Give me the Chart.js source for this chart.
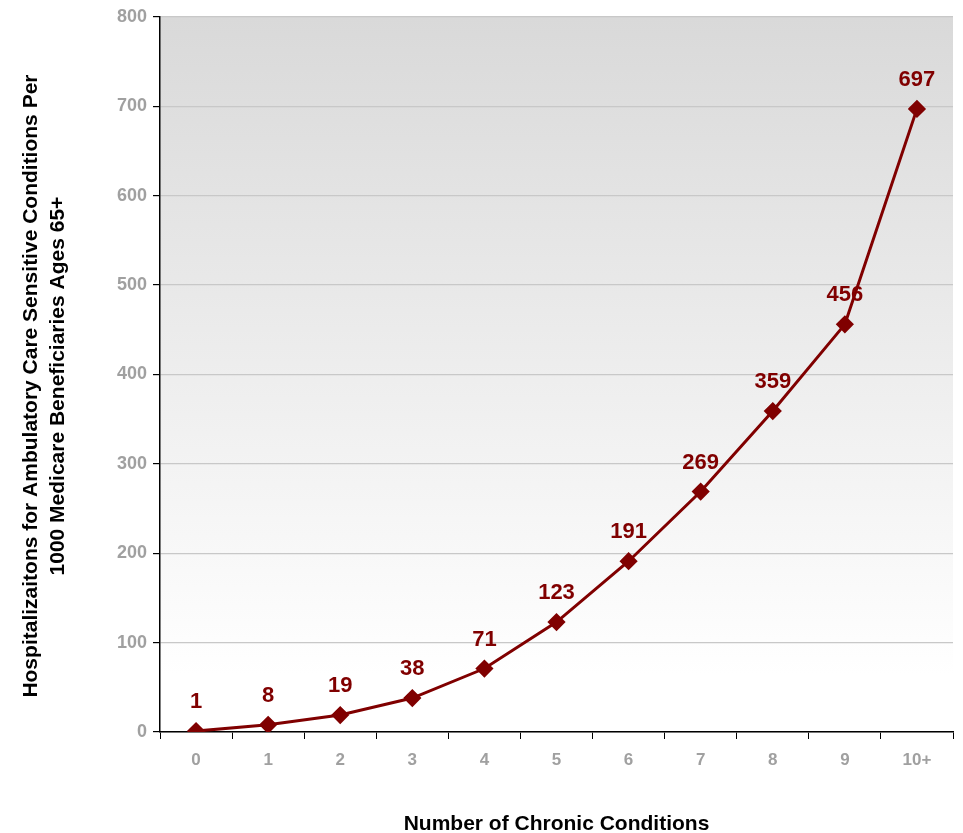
<!DOCTYPE html>
<html>
<head>
<meta charset="utf-8">
<script src="https://cdn.jsdelivr.net/npm/chart.js@4"></script>
<style>
  body { margin: 0; background: #fff; }
</style>
</head>
<body>
<canvas id="chart" width="963" height="833"></canvas>
<script>
const categories = ["0", "1", "2", "3", "4", "5", "6", "7", "8", "9", "10+"];
const hospitalizations = [1, 8, 19, 38, 71, 123, 191, 269, 359, 456, 697];
const yTicks = [0, 100, 200, 300, 400, 500, 600, 700, 800];

const lineColor = "#800000";
const tickGray = "#a0a0a0";
const fontFamily = "Arial, 'Liberation Sans', sans-serif";

// gray to white fill behind the plot
const bgPlugin = {
    id: "bgGradient",
    beforeDraw(chart) {
        const area = chart.chartArea;
        const ctx = chart.ctx;
        const grad = ctx.createLinearGradient(0, area.top, 0, area.bottom);
        grad.addColorStop(0, "#d9d9d9");
        grad.addColorStop(0.92, "#ffffff");
        grad.addColorStop(1, "#ffffff");
        ctx.save();
        ctx.fillStyle = grad;
        ctx.fillRect(area.left, area.top, area.right - area.left, area.bottom - area.top);
        ctx.restore();
    }
};

// value labels above each point (drawn under the line, like the original)
const labelPlugin = {
    id: "valueLabels",
    beforeDatasetsDraw(chart) {
        const ctx = chart.ctx;
        const meta = chart.getDatasetMeta(0);
        ctx.save();
        ctx.font = "bold 22px " + fontFamily;
        ctx.fillStyle = lineColor;
        ctx.textAlign = "center";
        ctx.textBaseline = "middle";
        meta.data.forEach(function(pt, i) {
            ctx.fillText(String(hospitalizations[i]), pt.x, pt.y - 29);
        });
        ctx.restore();
    }
};

const ctx = document.getElementById("chart").getContext("2d");
new Chart(ctx, {
    type: "line",
    data: {
        labels: categories,
        datasets: [{
            data: hospitalizations,
            borderColor: lineColor,
            backgroundColor: lineColor,
            borderWidth: 3,
            pointStyle: "rectRot",
            pointRadius: 7,
            pointBackgroundColor: lineColor,
            pointBorderColor: lineColor,
            tension: 0
        }]
    },
    options: {
        responsive: false,
        animation: false,
        layout: { padding: { top: 6, right: -4, left: 0, bottom: 0 } },
        plugins: {
            legend: { display: false },
            tooltip: { enabled: false }
        },
        scales: {
            x: {
                offset: true,
                grid: {
                    offset: true,
                    drawOnChartArea: false,
                    drawTicks: true,
                    tickLength: 7,
                    tickColor: "#000"
                },
                border: { color: "#000", width: 1.5 },
                ticks: {
                    color: tickGray,
                    padding: 11,
                    font: { family: fontFamily, size: 17, weight: "bold" }
                },
                title: {
                    display: true,
                    text: "Number of Chronic Conditions",
                    color: "#000",
                    padding: { top: 36, bottom: 0 },
                    font: { family: fontFamily, size: 21, weight: "bold", lineHeight: "18px" }
                },
                afterFit(scale) { scale.height = 101; }
            },
            y: {
                min: 0,
                max: 800,
                afterBuildTicks(scale) {
                    scale.ticks = yTicks.map(v => ({ value: v }));
                },
                grid: {
                    color: "#c8c8c8",
                    lineWidth: 1.2,
                    tickLength: 7,
                    tickColor: "#000"
                },
                border: { color: "#000", width: 1.5 },
                ticks: {
                    color: tickGray,
                    padding: 6,
                    font: { family: fontFamily, size: 18, weight: "bold" }
                },
                title: {
                    display: true,
                    // trailing spaces nudge the rotated text down a bit
                    text: ["Hospitalizaitons for Ambulatory Care Sensitive Conditions Per    ",
                           "1000 Medicare Beneficiaries Ages 65+    "],
                    color: "#000",
                    padding: { top: 18 },
                    font: { family: fontFamily, size: 21, weight: "bold", lineHeight: "27px" }
                },
                afterFit(scale) { scale.width = 160; }
            }
        }
    },
    plugins: [bgPlugin, labelPlugin]
});
</script>
</body>
</html>
